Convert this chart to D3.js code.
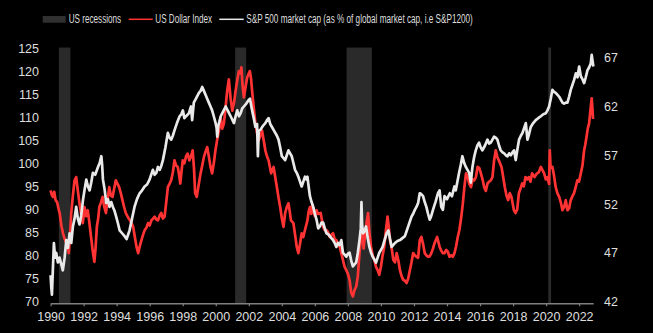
<!DOCTYPE html>
<html>
<head>
<meta charset="utf-8">
<script src="https://cdn.jsdelivr.net/npm/d3@7/dist/d3.min.js"></script>
<style>
  html, body { margin: 0; padding: 0; background: #000; }
  svg { display: block; }
  text { font-family: "Liberation Sans Narrow", "Arial Narrow", "Liberation Sans", Arial, sans-serif; fill: #dedede; }
</style>
</head>
<body>
<svg id="chart" width="653" height="333"></svg>
<script>
// US Dollar Index (DXY), decimal year -> index level
const dxyDates = [
  1990.00,1990.08,1990.15,1990.22,1990.30,1990.40,1990.50,1990.55,1990.65,1990.75,1990.85,1990.95,
  1991.05,1991.10,1991.18,1991.25,1991.35,1991.45,1991.55,1991.65,1991.75,1991.85,1991.95,
  1992.05,1992.15,1992.25,1992.35,1992.45,1992.55,1992.65,1992.72,1992.80,1992.88,1992.95,
  1993.05,1993.15,1993.25,1993.35,1993.45,1993.55,1993.65,1993.75,1993.85,1993.95,
  1994.05,1994.15,1994.25,1994.35,1994.45,1994.55,1994.65,1994.80,1994.90,
  1995.00,1995.10,1995.20,1995.30,1995.40,1995.50,1995.60,1995.70,1995.80,1995.90,
  1996.00,1996.10,1996.20,1996.30,1996.40,1996.50,1996.60,1996.70,1996.80,1996.90,
  1997.00,1997.10,1997.20,1997.30,1997.40,1997.50,1997.60,1997.70,1997.78,1997.85,1997.92,
  1998.00,1998.10,1998.20,1998.30,1998.40,1998.50,1998.60,1998.68,1998.75,1998.85,1998.95,
  1999.08,1999.18,1999.28,1999.38,1999.48,1999.58,1999.68,1999.78,1999.88,1999.98,
  2000.08,2000.19,2000.29,2000.39,2000.49,2000.59,2000.69,2000.79,2000.90,
  2001.00,2001.10,2001.20,2001.30,2001.40,2001.50,2001.55,2001.62,2001.70,2001.80,2001.90,
  2002.00,2002.06,2002.13,2002.20,2002.30,2002.40,2002.50,2002.60,2002.70,2002.80,2002.90,
  2003.00,2003.10,2003.20,2003.35,2003.50,2003.60,2003.70,2003.80,2003.90,
  2004.00,2004.10,2004.20,2004.30,2004.40,2004.48,2004.55,2004.70,2004.80,2004.90,
  2005.00,2005.10,2005.20,2005.30,2005.40,2005.55,2005.62,2005.70,2005.78,2005.85,2005.92,
  2006.00,2006.10,2006.20,2006.35,2006.50,2006.60,2006.70,2006.80,2006.90,
  2007.00,2007.10,2007.20,2007.30,2007.40,2007.50,2007.60,2007.70,2007.80,2007.90,
  2008.00,2008.10,2008.20,2008.30,2008.40,2008.50,2008.60,2008.70,2008.80,2008.90,2008.95,
  2009.05,2009.15,2009.22,2009.30,2009.40,2009.50,2009.60,2009.70,2009.80,2009.90,
  2010.00,2010.10,2010.20,2010.30,2010.40,2010.48,2010.55,2010.65,2010.75,2010.85,2010.95,
  2011.05,2011.15,2011.25,2011.35,2011.45,2011.55,2011.65,2011.75,2011.85,2011.95,
  2012.05,2012.15,2012.25,2012.35,2012.45,2012.55,2012.65,2012.75,2012.85,2012.95,
  2013.05,2013.15,2013.25,2013.40,2013.55,2013.65,2013.75,2013.85,2013.95,
  2014.05,2014.15,2014.25,2014.35,2014.45,2014.55,2014.65,2014.75,2014.85,2014.95,
  2015.05,2015.15,2015.25,2015.35,2015.45,2015.55,2015.65,2015.75,2015.85,2015.95,
  2016.05,2016.15,2016.25,2016.35,2016.45,2016.55,2016.65,2016.75,2016.85,2016.95,
  2017.05,2017.15,2017.30,2017.40,2017.50,2017.60,2017.70,2017.80,2017.90,
  2018.05,2018.15,2018.25,2018.35,2018.45,2018.55,2018.65,2018.75,2018.85,2018.95,
  2019.05,2019.15,2019.30,2019.45,2019.55,2019.68,2019.78,2019.88,2019.98,
  2020.08,2020.18,2020.22,2020.27,2020.38,2020.47,2020.58,2020.68,2020.79,2020.89,2020.99,
  2021.09,2021.19,2021.29,2021.39,2021.49,2021.59,2021.69,2021.79,2021.89,2021.99,
  2022.10,2022.20,2022.30,2022.37,2022.44,2022.52,2022.60,2022.70,2022.76,2022.80,2022.84
];
const dxyValues = [
  94.1,93.0,92.7,93.8,92.0,91.5,89.8,89.2,86.5,84.8,83.6,82.7,
  81.5,80.5,84.5,89.2,93.0,96.3,97.0,94.0,91.3,89.0,87.0,
  90.5,88.5,89.8,87.0,84.0,81.0,78.6,81.5,86.2,88.0,90.5,
  91.5,92.7,90.5,89.2,92.0,94.8,93.0,92.7,94.5,96.3,
  95.5,94.8,93.5,92.0,90.5,89.2,88.5,87.6,87.0,
  86.2,84.0,81.9,80.5,82.0,83.3,84.5,85.5,86.0,87.0,
  86.5,87.6,88.0,88.4,87.8,87.6,88.6,89.2,88.0,88.4,
  91.5,94.8,95.5,96.3,98.0,100.6,99.5,99.2,97.5,95.6,98.0,
  100.6,100.0,101.5,102.1,100.6,101.5,102.8,99.0,93.5,92.7,95.0,
  97.8,99.5,101.3,102.5,103.5,101.5,99.2,97.8,100.0,102.8,
  105.0,107.1,110.0,107.5,108.6,112.0,115.7,118.2,114.0,
  111.4,113.0,115.7,118.0,120.0,119.5,120.8,117.0,114.3,116.5,118.6,
  119.5,120.0,118.5,115.7,112.0,108.6,106.5,105.0,106.0,107.1,105.0,
  102.8,101.5,100.6,97.8,99.2,97.0,94.8,92.5,90.5,
  88.0,86.2,89.2,90.5,91.3,89.5,87.6,87.0,84.5,81.9,
  80.5,82.5,84.8,84.0,85.5,87.6,89.5,90.5,89.0,91.0,89.5,
  88.5,89.8,89.0,89.2,86.2,85.5,85.5,85.0,84.0,
  84.5,84.8,83.5,83.3,82.5,81.9,80.5,79.0,77.5,76.8,
  76.0,74.7,71.9,71.1,72.5,73.2,75.5,80.5,84.0,84.8,81.5,
  85.0,87.6,89.2,85.0,81.9,80.0,79.0,77.5,76.8,75.8,
  77.6,80.0,81.9,85.5,88.4,86.0,83.3,81.5,79.0,78.5,80.5,
  79.0,76.8,75.5,74.7,74.5,74.0,75.0,76.8,78.5,80.5,
  80.0,79.7,79.5,83.3,84.0,82.5,80.5,80.0,79.7,79.8,
  80.5,81.5,82.7,84.0,81.9,81.0,80.5,80.5,81.2,
  80.8,79.7,80.0,79.7,80.5,82.0,84.0,85.5,88.0,91.0,
  94.8,97.8,97.0,95.5,94.8,96.5,96.3,97.0,99.2,99.0,
  97.8,96.5,94.8,94.0,95.6,96.0,96.3,97.0,100.6,102.8,
  101.3,100.5,99.2,97.0,94.8,93.0,92.0,93.5,92.7,
  89.8,89.2,90.0,93.5,94.5,95.6,95.0,97.0,96.5,97.0,
  96.0,97.8,97.0,97.8,98.0,99.2,98.5,97.8,96.5,
  97.0,95.5,102.8,99.0,99.2,97.5,94.8,93.5,92.7,91.5,89.8,
  90.5,92.0,89.8,90.2,92.0,92.8,93.5,94.8,96.3,96.0,
  97.8,99.5,102.8,104.0,105.6,107.5,108.6,112.1,114.1,112.0,109.6
];

// S&P 500 market cap as % of S&P 1200 market cap, decimal year -> percent
const spxShareDates = [
  1990.00,1990.04,1990.08,1990.12,1990.20,1990.27,1990.34,1990.44,1990.54,1990.65,1990.74,1990.85,1990.95,
  1991.05,1991.15,1991.25,1991.35,1991.45,1991.55,1991.65,1991.75,1991.85,1991.96,
  1992.06,1992.16,1992.26,1992.36,1992.46,1992.56,1992.70,1992.87,1992.97,
  1993.07,1993.12,1993.17,1993.27,1993.37,1993.47,1993.57,1993.67,1993.77,1993.87,1993.97,
  1994.08,1994.18,1994.33,1994.48,1994.60,1994.70,1994.78,1994.93,
  1995.08,1995.23,1995.39,1995.54,1995.69,1995.84,1995.99,
  1996.09,1996.19,1996.30,1996.40,1996.50,1996.60,1996.70,1996.80,1996.95,
  1997.10,1997.20,1997.30,1997.40,1997.51,1997.65,1997.81,1997.91,
  1998.01,1998.10,1998.20,1998.37,1998.50,1998.57,1998.67,1998.80,1998.98,
  1999.08,1999.18,1999.28,1999.38,1999.48,1999.58,1999.68,1999.78,1999.88,1999.99,
  2000.05,2000.09,2000.15,2000.30,2000.45,2000.60,2000.75,2000.90,
  2001.10,2001.20,2001.30,2001.40,2001.50,2001.60,2001.70,2001.85,
  2002.00,2002.07,2002.20,2002.30,2002.40,2002.50,2002.55,2002.60,2002.70,2002.85,
  2003.00,2003.10,2003.20,2003.30,2003.40,2003.50,2003.60,2003.70,2003.80,2003.90,
  2004.00,2004.10,2004.20,2004.30,2004.40,2004.50,2004.60,2004.70,2004.80,2004.90,
  2005.00,2005.10,2005.20,2005.30,2005.40,2005.50,2005.55,2005.62,2005.70,2005.80,2005.90,
  2006.00,2006.10,2006.20,2006.30,2006.40,2006.50,2006.60,2006.70,2006.80,2006.90,
  2007.00,2007.10,2007.20,2007.30,2007.40,2007.50,2007.60,2007.70,2007.80,2007.90,
  2008.00,2008.10,2008.20,2008.30,2008.40,2008.50,2008.60,2008.70,2008.78,2008.82,2008.86,2008.92,
  2009.00,2009.10,2009.20,2009.30,2009.40,2009.50,2009.60,2009.70,2009.80,2009.90,
  2010.00,2010.10,2010.20,2010.35,2010.45,2010.55,2010.65,2010.75,2010.85,
  2011.00,2011.15,2011.30,2011.45,2011.55,2011.65,2011.75,2011.85,2011.95,
  2012.05,2012.15,2012.25,2012.35,2012.45,2012.55,2012.65,2012.75,2012.85,2012.95,
  2013.05,2013.15,2013.30,2013.45,2013.55,2013.65,2013.75,2013.85,
  2014.00,2014.17,2014.30,2014.45,2014.53,2014.63,2014.73,2014.83,2014.93,
  2015.04,2015.14,2015.24,2015.34,2015.44,2015.54,2015.64,2015.74,2015.84,2015.94,
  2016.04,2016.14,2016.30,2016.45,2016.55,2016.65,2016.75,2016.85,2016.95,
  2017.05,2017.15,2017.25,2017.36,2017.46,2017.56,2017.66,2017.76,2017.86,2017.96,
  2018.06,2018.16,2018.26,2018.36,2018.47,2018.57,2018.67,2018.77,2018.87,2018.97,
  2019.07,2019.22,2019.37,2019.52,2019.68,2019.83,2019.98,
  2020.08,2020.18,2020.28,2020.38,2020.48,2020.58,2020.69,2020.79,2020.89,2020.99,
  2021.09,2021.19,2021.29,2021.39,2021.49,2021.59,2021.69,2021.80,2021.90,2022.00,
  2022.10,2022.20,2022.30,2022.40,2022.50,2022.60,2022.70,2022.76,2022.80,2022.86
];
const spxShareValues = [
  44.7,43.5,42.7,44.5,48.0,46.5,47.0,46.0,46.5,45.8,45.2,46.5,48.3,
  47.5,49.0,48.0,49.7,50.5,51.7,50.5,49.9,50.8,52.4,
  53.5,54.5,53.8,53.4,54.2,55.2,55.0,55.8,56.2,
  56.9,56.0,54.5,53.5,52.1,52.5,51.7,52.2,51.7,51.3,50.7,
  50.0,49.3,49.0,48.7,48.4,48.9,49.3,50.5,
  51.7,52.5,53.1,53.4,53.8,54.0,54.5,
  55.0,55.5,55.0,55.2,55.8,55.5,55.9,56.5,57.8,
  59.3,58.8,58.6,59.0,59.6,60.3,61.0,61.2,
  61.6,60.8,61.0,61.3,62.0,60.6,62.4,62.8,63.4,
  63.6,64.0,63.6,63.2,62.8,62.4,62.0,61.6,61.0,60.3,
  59.8,58.9,60.0,61.0,61.5,62.0,61.5,61.0,
  60.3,61.0,61.6,61.0,61.3,61.8,62.0,62.3,
  62.7,62.8,61.6,60.8,59.9,60.2,56.9,59.5,59.6,60.0,
  60.3,60.6,60.8,60.2,59.9,59.6,59.3,59.0,58.6,57.8,
  56.9,56.7,56.5,57.0,57.5,57.2,56.9,56.2,55.5,55.2,
  54.8,54.3,53.8,54.3,54.8,54.5,54.8,53.8,52.8,52.2,51.7,
  51.0,50.4,49.5,49.7,50.1,50.1,49.5,49.0,48.9,48.7,
  48.5,48.3,48.0,47.6,48.0,47.8,48.3,47.0,46.8,46.6,
  46.9,47.0,46.2,45.6,45.8,46.0,47.0,48.3,49.5,52.2,49.8,49.0,
  49.2,49.7,48.5,47.6,47.0,46.6,46.3,46.0,46.5,47.0,
  47.3,47.6,48.2,49.0,49.3,48.4,47.6,47.8,48.0,
  48.2,48.3,48.5,48.7,49.2,49.7,50.2,50.7,51.0,
  51.4,51.7,52.1,53.1,53.0,52.8,52.2,51.7,51.0,50.4,
  50.8,51.4,52.2,53.1,53.4,51.7,51.4,52.8,
  52.5,53.1,52.8,53.8,53.4,54.3,55.2,56.0,56.9,
  56.2,55.8,55.5,55.2,54.2,55.8,56.8,57.5,58.0,58.3,
  57.8,57.5,58.0,58.6,58.2,58.3,58.6,58.9,58.8,
  58.6,58.0,57.5,57.3,57.2,57.0,56.9,57.2,57.0,57.3,
  57.5,56.5,57.6,58.6,59.0,59.3,59.8,60.3,58.6,59.2,
  59.9,60.3,60.6,60.8,61.0,61.2,61.3,
  61.6,62.0,62.8,63.7,63.5,63.4,63.2,63.0,62.7,62.4,
  62.3,62.4,62.4,63.0,63.7,64.2,64.7,65.4,65.0,66.1,
  65.1,64.8,64.4,65.0,65.7,66.0,66.4,67.3,66.8,66.1
];

// NBER recession spans (decimal years)
const recessionStart = [1990.50, 2001.17, 2007.92, 2020.13];
const recessionEnd   = [1991.20, 2001.84, 2009.45, 2020.30];

// Axis ticks
const yearTicks  = [1990,1992,1994,1996,1998,2000,2002,2004,2006,2008,2010,2012,2014,2016,2018,2020,2022];
const leftTicks  = [70,75,80,85,90,95,100,105,110,115,120,125];
const rightTicks = [42,47,52,57,62,67];

const legendLabels = ["US recessions", "US Dollar Index", "S&P 500 market cap (as % of global market cap, i.e S&P1200)"];

const colors = { dxy: "#ff3333", spx: "#e9e9e9", recession: "#2a2a2a", axis: "#808080" };

const svg = d3.select("#chart");
svg.append("rect").attr("width", 653).attr("height", 333).attr("fill", "#000");

const x  = d3.scaleLinear().domain([1990, 2022.85]).range([50.6, 593.2]);
const yL = d3.scaleLinear().domain([70, 125]).range([301.5, 48]);
const yR = d3.scaleLinear().domain([42, 68]).range([301.5, 48]);
const axisY = 303.3;

// recession shading
svg.append("g").selectAll("rect")
  .data(recessionStart.map((s, i) => [s, recessionEnd[i]]))
  .join("rect")
  .attr("x", d => x(d[0]))
  .attr("width", d => x(d[1]) - x(d[0]))
  .attr("y", yL(125.1))
  .attr("height", d => axisY - yL(125.1))
  .attr("fill", colors.recession);

// x axis
const xAxis = svg.append("g")
  .attr("transform", `translate(0,${axisY})`)
  .call(d3.axisBottom(x).tickValues(yearTicks).tickFormat(d3.format("d")).tickSize(3).tickSizeOuter(0).tickPadding(6));
xAxis.select(".domain").attr("stroke", colors.axis).attr("stroke-width", 1.5);
xAxis.selectAll(".tick line").attr("stroke", colors.axis).attr("stroke-width", 1.2);
xAxis.selectAll("text").attr("fill", "#dedede").style("font-size", "12.5px");

// left axis labels
const lAxis = svg.append("g")
  .attr("transform", "translate(39,0)")
  .call(d3.axisLeft(yL).tickValues(leftTicks).tickSize(0).tickPadding(0));
lAxis.select(".domain").remove();
lAxis.selectAll("text").attr("fill", "#dedede").style("font-size", "12.5px");

// right axis labels
const rAxis = svg.append("g")
  .attr("transform", "translate(604,0)")
  .call(d3.axisRight(yR).tickValues(rightTicks).tickSize(0).tickPadding(0));
rAxis.select(".domain").remove();
rAxis.selectAll("text").attr("fill", "#dedede").style("font-size", "12.5px");

// series lines
const dxyLine = d3.line().x((d, i) => x(dxyDates[i])).y(d => yL(d));
const spxLine = d3.line().x((d, i) => x(spxShareDates[i])).y(d => yR(d));

svg.append("path").datum(dxyValues)
  .attr("d", dxyLine).attr("fill", "none")
  .attr("stroke", colors.dxy).attr("stroke-width", 2.7).attr("stroke-linejoin", "round");

svg.append("path").datum(spxShareValues)
  .attr("d", spxLine).attr("fill", "none")
  .attr("stroke", colors.spx).attr("stroke-width", 2.7).attr("stroke-linejoin", "round");

// legend
const legend = svg.append("g").style("font-size", "12.5px");
legend.append("rect").attr("x", 42.7).attr("y", 16).attr("width", 23).attr("height", 6.7).attr("fill", "#303030");
legend.append("text").attr("x", 68.7).attr("y", 23).text(legendLabels[0]).attr("textLength", 52.5).attr("lengthAdjust", "spacingAndGlyphs");
legend.append("line").attr("x1", 128.7).attr("x2", 152.7).attr("y1", 19.3).attr("y2", 19.3).attr("stroke", colors.dxy).attr("stroke-width", 1.5);
legend.append("text").attr("x", 155.3).attr("y", 23).text(legendLabels[1]).attr("textLength", 56.7).attr("lengthAdjust", "spacingAndGlyphs");
legend.append("line").attr("x1", 219.3).attr("x2", 243.7).attr("y1", 19.3).attr("y2", 19.3).attr("stroke", colors.spx).attr("stroke-width", 1.5);
legend.append("text").attr("x", 246.3).attr("y", 23).text(legendLabels[2]).attr("textLength", 226.5).attr("lengthAdjust", "spacingAndGlyphs");
</script>
</body>
</html>
